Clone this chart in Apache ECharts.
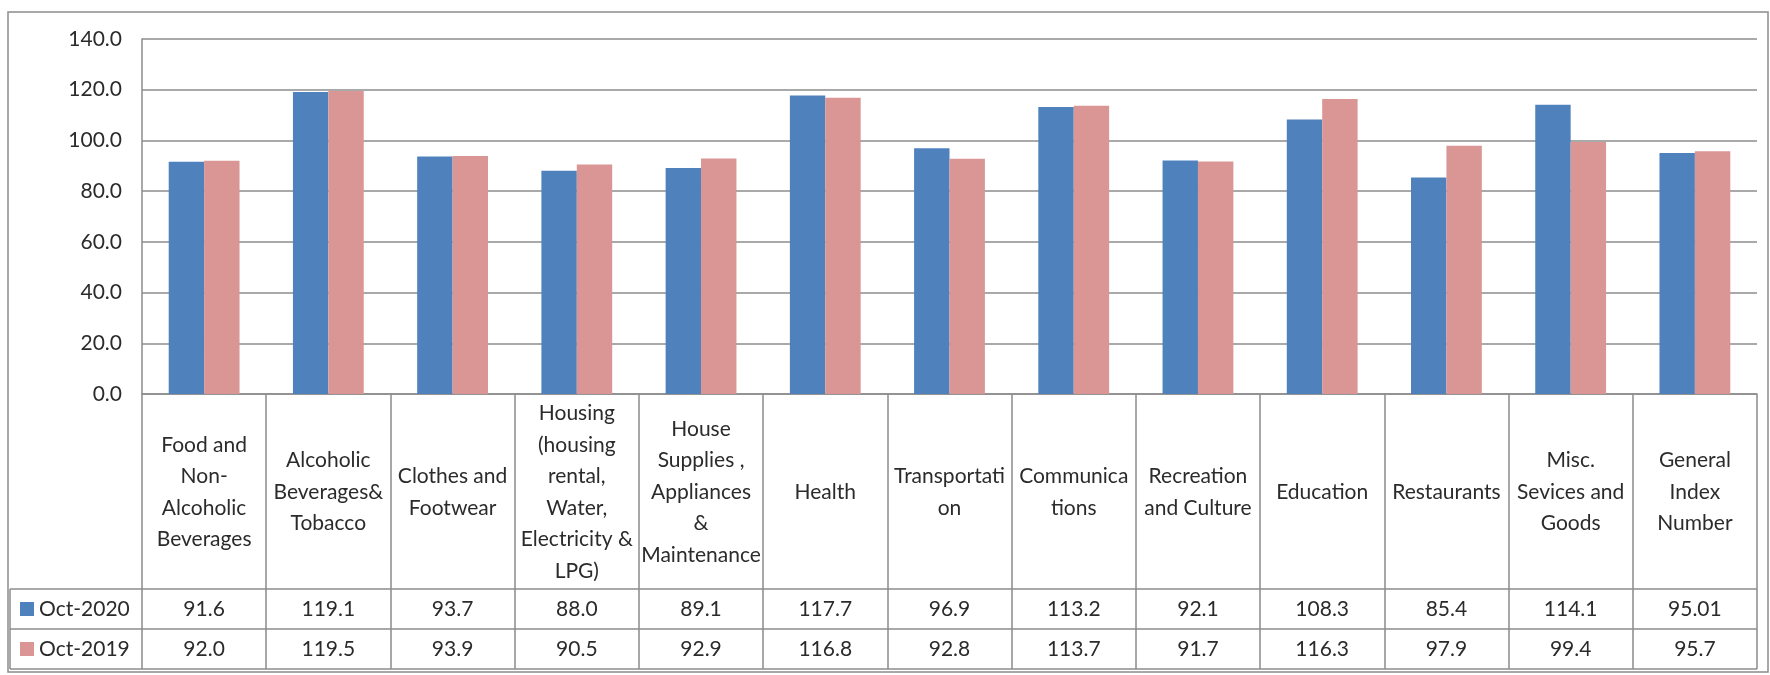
<html><head><meta charset='utf-8'>
<script src='https://cdn.jsdelivr.net/npm/echarts@6/dist/echarts.min.js'></script>
<style>body{margin:0;background:#fff}#main{width:1770px;height:675px}</style>
</head><body><div id='main'></div><script>
// categories as they wrap in the table cells
var categories = [
  'Food and\nNon-\nAlcoholic\nBeverages',
  'Alcoholic\nBeverages&\nTobacco',
  'Clothes and\nFootwear',
  'Housing\n(housing\nrental,\nWater,\nElectricity &\nLPG)',
  'House\nSupplies ,\nAppliances\n&\nMaintenance',
  'Health',
  'Transportati\non',
  'Communica\ntions',
  'Recreation\nand Culture',
  'Education',
  'Restaurants',
  'Misc.\nSevices and\nGoods',
  'General\nIndex\nNumber'
];
var seriesNames = ['Oct-2020', 'Oct-2019'];
var oct2020 = [91.6, 119.1, 93.7, 88.0, 89.1, 117.7, 96.9, 113.2, 92.1, 108.3, 85.4, 114.1, 95.01];
var oct2019 = [92.0, 119.5, 93.9, 90.5, 92.9, 116.8, 92.8, 113.7, 91.7, 116.3, 97.9, 99.4, 95.7];
var colors = ['#4F81BD', '#D99694'];

var font = 'Lato';
var lineCol = '#8c8c8c';
var textCol = '#2b2b2b';

function fmt(v) {
  return Math.round(v * 10) / 10 === v ? v.toFixed(1) : String(v);
}

var chart = echarts.init(document.getElementById('main'));

// table row axes (values shown under each category)
function rowAxis(vals, margin) {
  return {
    type: 'category', data: categories, position: 'bottom',
    axisLine: {show: false, onZero: false}, axisTick: {show: false},
    axisLabel: {
      interval: 0, margin: margin, verticalAlign: 'middle',
      fontFamily: font, fontSize: 21, color: textCol,
      formatter: function (v, i) { return fmt(vals[i]); }
    }
  };
}

// legend cells on the left of the table
var graphics = [
  {type: 'rect', shape: {x: 8, y: 12, width: 1760, height: 660}, style: {fill: 'none', stroke: lineCol, lineWidth: 1.5}},
  {type: 'line', shape: {x1: 10, y1: 589, x2: 1757, y2: 589}, style: {stroke: lineCol, lineWidth: 1.5}},
  {type: 'line', shape: {x1: 10, y1: 629, x2: 1757, y2: 629}, style: {stroke: lineCol, lineWidth: 1.5}},
  {type: 'line', shape: {x1: 10, y1: 669, x2: 1757, y2: 669}, style: {stroke: lineCol, lineWidth: 1.5}},
  {type: 'line', shape: {x1: 10, y1: 589, x2: 10, y2: 669}, style: {stroke: lineCol, lineWidth: 1.5}}
];
seriesNames.forEach(function (name, k) {
  graphics.push({type: 'rect', shape: {x: 20, y: 602 + k * 40, width: 14, height: 14}, style: {fill: colors[k]}});
  graphics.push({type: 'text', x: 39, y: 609 + k * 40,
    style: {text: name, fontFamily: font, fontSize: 21, fill: textCol, verticalAlign: 'middle'}});
});

var option = {
  animation: false,
  grid: {left: 142, right: 13, top: 39, bottom: 281},
  xAxis: [
    {
      type: 'category', data: categories, position: 'bottom',
      axisLine: {onZero: false, lineStyle: {color: lineCol, width: 1.5}},
      axisTick: {show: true, interval: 0, length: 275, lineStyle: {color: lineCol, width: 1.5}},
      axisLabel: {
        interval: 0, margin: 98, verticalAlign: 'middle', align: 'center',
        fontFamily: font, fontSize: 21, lineHeight: 31.5, color: textCol
      }
    },
    rowAxis(oct2020, 215),
    rowAxis(oct2019, 255)
  ],
  yAxis: {
    type: 'value', min: 0, max: 140, interval: 20,
    axisLine: {show: true, lineStyle: {color: lineCol, width: 1.5}},
    axisTick: {show: false},
    splitLine: {lineStyle: {color: lineCol, width: 1.5}},
    axisLabel: {margin: 20, fontFamily: font, fontSize: 21, color: textCol,
      formatter: function (v) { return v.toFixed(1); }}
  },
  series: [
    {name: seriesNames[0], type: 'bar', data: oct2020, itemStyle: {color: colors[0]},
      barGap: '0%', barCategoryGap: '43%'},
    {name: seriesNames[1], type: 'bar', data: oct2019, itemStyle: {color: colors[1]},
      barGap: '0%', barCategoryGap: '43%'}
  ],
  graphic: graphics
};
chart.setOption(option);
</script></body></html>
